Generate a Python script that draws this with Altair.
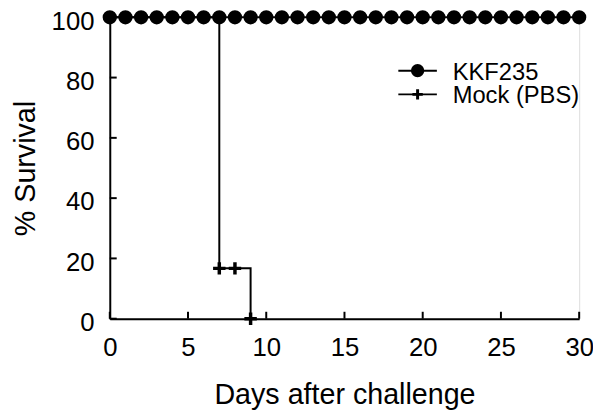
import altair as alt
import pandas as pd

# ---- data ----
series_names = ["KKF235", "Mock (PBS)"]
kkf_days = [0, 1, 2, 3, 4, 5, 6, 7, 8, 9, 10, 11, 12, 13, 14, 15,
            16, 17, 18, 19, 20, 21, 22, 23, 24, 25, 26, 27, 28, 29, 30]
kkf_survival = [100, 100, 100, 100, 100, 100, 100, 100, 100, 100, 100,
                100, 100, 100, 100, 100, 100, 100, 100, 100, 100, 100,
                100, 100, 100, 100, 100, 100, 100, 100, 100]
mock_days = [0, 7, 8, 9]
mock_survival = [100, 16.7, 16.7, 0]
x_ticks = [0, 5, 10, 15, 20, 25, 30]
y_ticks = [0, 20, 40, 60, 80, 100]

df = pd.DataFrame({
    "series": [series_names[0]] * len(kkf_days) + [series_names[1]] * len(mock_days),
    "day": kkf_days + mock_days,
    "survival": kkf_survival + mock_survival,
})
xtick_df = pd.DataFrame({"day": x_ticks})
ytick_df = pd.DataFrame({"survival": y_ticks})
legend_df = pd.DataFrame({"series": series_names})

FONT = "Liberation Sans"
W, H = 475, 305

x_scale = alt.Scale(domain=[0, 30], nice=False, zero=False)
y_scale = alt.Scale(domain=[0, 100], nice=False)

common_axis = dict(grid=False, ticks=False, tickSize=0, domainWidth=2, domainColor="black",
                   labelColor="black", titleColor="black", labelFont=FONT, titleFont=FONT,
                   labelFontSize=26, titleFontSize=29, titleFontWeight="normal",
                   labelPadding=16, labelOverlap=False, labelFlush=False)
x_axis = alt.Axis(values=x_ticks, title="Days after challenge", titleY=86,
                  titleBaseline="alphabetic", **common_axis)
y_axis = alt.Axis(values=y_ticks, title="% Survival", titleX=-76,
                  titleBaseline="alphabetic", labelOffset=4, **common_axis)

X = alt.X("day:Q", scale=x_scale, axis=x_axis)
Y = alt.Y("survival:Q", scale=y_scale, axis=y_axis)

base = alt.Chart(df).encode(x=X, y=Y)

lines = base.mark_line(interpolate="step-after", color="black", strokeWidth=2).encode(
    detail="series:N")

xticks = alt.Chart(xtick_df).mark_rule(color="black", strokeWidth=2).encode(
    x=X, y=alt.value(H), y2=alt.value(H - 7))
yticks = alt.Chart(ytick_df).mark_rule(color="black", strokeWidth=2).encode(
    y=Y, x=alt.value(0), x2=alt.value(7))

CROSS = "M-1.15,0H1.15M0,-1.15V1.15"
points = base.mark_point(filled=True, fill="black", stroke="black", strokeWidth=3.5,
                         size=120, opacity=1).encode(
    shape=alt.Shape("series:N",
                    scale=alt.Scale(domain=series_names, range=["circle", CROSS]),
                    legend=None))

main = alt.layer(lines, xticks, yticks, points)

# ---- in-plot legend (rows laid out by a point scale) ----
LY = alt.Y("series:N", axis=None,
           scale=alt.Scale(type="point", domain=series_names, range=[54, 78], padding=0))
leg_base = alt.Chart(legend_df).encode(y=LY)
leg_line = leg_base.mark_rule(color="black", strokeWidth=2).encode(
    x=alt.value(292), x2=alt.value(331))
LEG_CROSS = "M-1,0H1M0,-1V1"
leg_sym = leg_base.mark_point(filled=True, fill="black", stroke="black", strokeWidth=3,
                              size=110, opacity=1).encode(
    x=alt.value(311.5),
    shape=alt.Shape("series:N",
                    scale=alt.Scale(domain=series_names, range=["circle", LEG_CROSS]),
                    legend=None))
leg_text = leg_base.mark_text(align="left", baseline="middle", dy=2, font=FONT,
                              fontSize=24, color="black").encode(
    x=alt.value(347), text="series:N")
legend_block = alt.layer(leg_line, leg_sym, leg_text)

chart = alt.layer(main, legend_block).resolve_scale(
    y="independent", shape="independent"
).properties(
    width=W, height=H,
    autosize=alt.AutoSizeParams(type="none"),
    padding={"left": 103, "top": 7, "right": 14, "bottom": 91},
).configure_view(stroke=None).configure(font=FONT)

chart.save("out.html", embed_options={"renderer": "svg", "actions": False})
